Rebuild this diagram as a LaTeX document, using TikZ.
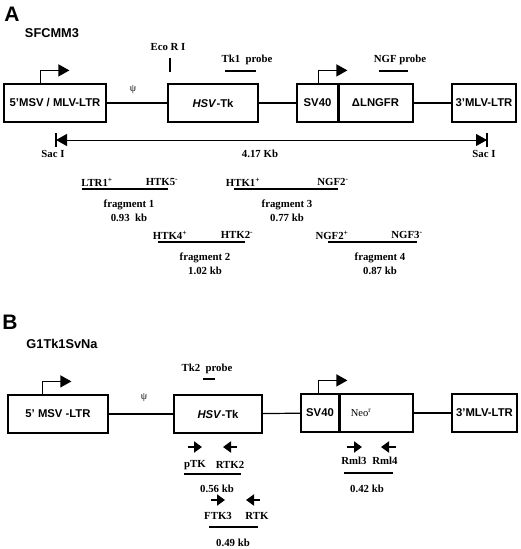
\documentclass[tikz,border=0pt]{standalone}
\usepackage{fontspec}
\setmainfont{Liberation Serif}
\setsansfont{Liberation Sans}
\usetikzlibrary{arrows.meta}

\tikzset{
  gene/.style={draw, line width=1.2pt, minimum height=38pt, inner sep=0pt,
    font=\sffamily\bfseries\fontsize{11.3}{13}\selectfont},
  lbl/.style={inner sep=0pt, font=\bfseries\fontsize{10.8}{12}\selectfont},
  panel/.style={inner sep=0pt, font=\sffamily\bfseries\fontsize{21}{23}\selectfont},
  vecname/.style={inner sep=0pt, font=\sffamily\bfseries\fontsize{12.8}{14}\selectfont},
  link/.style={line width=1.2pt},
  prom/.style={line width=1.2pt, -{Triangle[length=11pt,width=12pt]}},
  primer/.style={line width=2.4pt, -{Triangle[length=8pt,width=11pt]}},
  psi/.style={inner sep=0pt, font=\fontsize{10}{11}\selectfont},
}

\begin{document}
\begin{tikzpicture}[x=1pt, y=-1pt]
    \useasboundingbox (0,0) rectangle (520,549);

    % ---------- Panel A ----------
    \node[panel] (labA) at (12,14) {A};
    \node[vecname] (nameA) at (52,33) {SFCMM3};

    % Cassette boxes
    \node[gene, minimum width=102pt] (ltrA) at (55,103) {5'MSV / MLV-LTR};
    \node[gene, minimum width=90pt] (tkA) at (213,103) {\textit{HSV}-Tk};
    \node[gene, minimum width=41pt] (svA) at (317.5,103) {SV40};
    \node[gene, minimum width=75pt] (ngfrA) at (375.5,103) {ΔLNGFR};
    \node[gene, minimum width=64pt] (ltrA3) at (484,103) {3'MLV-LTR};
    \draw[line width=3pt] (svA.north east) -- (svA.south east);

    % Connectors between boxes
    \draw[link] (ltrA) -- (tkA);
    \draw[link] (tkA) -- (svA);
    \draw[link] (ngfrA) -- (ltrA3);
    \node[psi] (psiA) at (133,90) {ψ};

    % Promoters
    \draw[prom] ([xshift=37pt]ltrA.north west) |- ++(29,-13);
    \draw[prom] ([xshift=22pt]svA.north west) |- ++(29,-13);

    % Restriction site and probes
    \node[lbl] (ecoA) at (168,47) {Eco R I};
    \draw[link] (170,58) -- (170,72);
    \node[lbl] (tk1) at (247,60) {Tk1\ \ probe};
    \draw[link] (225,71) -- (256,71);
    \node[lbl] (ngfp) at (400,60) {NGF probe};
    \draw[link] (379,71) -- (408,71);

    % Sac I to Sac I span
    \coordinate (sacL) at (56,140);
    \coordinate (sacR) at (487,140);
    \draw[line width=1pt, {Triangle[length=11pt,width=12pt]}-{Triangle[length=11pt,width=12pt]}] (sacL) -- (sacR);
    \draw[link] ([yshift=7pt]sacL) -- ([yshift=-7pt]sacL);
    \draw[link] ([yshift=7pt]sacR) -- ([yshift=-7pt]sacR);
    \node[lbl] (sacLl) at (53,154) {Sac I};
    \node[lbl] (sacRl) at (484,154) {Sac I};
    \node[lbl] (span) at (260,154) {4.17 Kb};

    % PCR fragments
    \foreach \n/\xa/\xb/\y/\xl/\la/\xr/\lb/\xc/\kb in {
        1/82/168/189/97/LTR1/162/HTK5/129/0.93\ \ kb,
        3/234/338/189/243/HTK1/333/NGF2/287/0.77 kb,
        2/158/245/242/170/HTK4/237/HTK2/205/1.02 kb,
        4/328/417/242/332/NGF2/407/NGF3/380/0.87 kb} {
        \coordinate (f\n a) at (\xa,\y);
        \coordinate (f\n b) at (\xb,\y);
        \draw[link] (f\n a) -- (f\n b);
        \node[lbl] (f\n l) at (\xl,\y-7) {\la\textsuperscript{+}};
        \node[lbl] (f\n r) at (\xr,\y-7) {\lb\textsuperscript{-}};
        \node[lbl] (f\n c) at (\xc,\y+16) {fragment \n};
        \node[lbl] (f\n k) at (\xc,\y+29) {\kb};
    }

    % ---------- Panel B ----------
    \node[panel] (labB) at (10,322) {B};
    \node[vecname] (nameB) at (62,344) {G1Tk1SvNa};

    % Cassette boxes
    \node[gene, minimum width=100pt] (ltrB) at (58,414) {5' MSV -LTR};
    \node[gene, minimum width=88pt] (tkB) at (218,414) {\textit{HSV}-Tk};
    \node[gene, minimum width=38pt] (svB) at (320,413) {SV40};
    \node[gene, minimum width=74pt] (neoB) at (376,413) {};
    \node[font=\fontsize{10.5}{12}\selectfont] (neoT) at (361,413) {Neo\textsuperscript{r}};
    \node[gene, minimum width=65pt] (ltrB3) at (484.5,413) {3'MLV-LTR};
    \draw[line width=3pt] (svB.north east) -- (svB.south east);

    % Connectors between boxes
    \draw[link] (ltrB) -- (tkB);
    \draw[link] (tkB) -- (svB);
    \draw[link] (neoB) -- (ltrB3);
    \node[psi] (psiB) at (144,398) {ψ};

    % Promoters
    \draw[prom] ([xshift=35pt]ltrB.north west) |- ++(29,-13);
    \draw[prom] ([xshift=18pt]svB.north west) |- ++(29,-13);

    % Probe
    \node[lbl] (tk2) at (207,369) {Tk2\ \ probe};
    \draw[link] (203,379) -- (215,379);

    % Primers
    \draw[primer] (188,447) -- (202,447);
    \draw[primer] (237,447) -- (223,447);
    \node[lbl] (ptk) at (195,465) {pTK};
    \node[lbl] (rtk2) at (230,465) {RTK2};
    \draw[link] (184,474) -- (241,474);
    \node[lbl] (kbTK) at (217,489) {0.56 kb};

    \draw[primer] (211,500) -- (225,500);
    \draw[primer] (260,500) -- (246,500);
    \node[lbl] (ftk3) at (218,516) {FTK3};
    \node[lbl] (rtk) at (257,516) {RTK};
    \draw[link] (209,527) -- (258,527);
    \node[lbl] (kbTK2) at (233,543) {0.49 kb};

    \draw[primer] (347,447) -- (362,447);
    \draw[primer] (396,447) -- (381,447);
    \node[lbl] (rml3) at (354,461) {Rml3};
    \node[lbl] (rml4) at (385,461) {Rml4};
    \draw[link] (344,473) -- (393,473);
    \node[lbl] (kbNeo) at (367,489) {0.42 kb};
\end{tikzpicture}
\end{document}
